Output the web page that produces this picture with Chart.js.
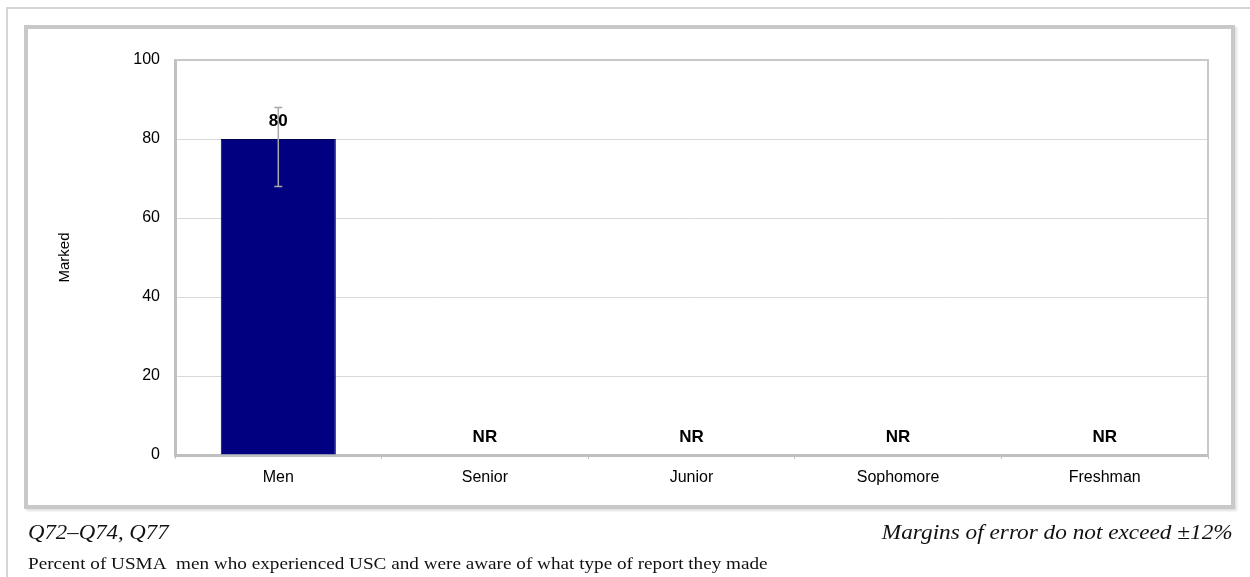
<!DOCTYPE html>
<html>
<head>
<meta charset="utf-8">
<script src="https://cdn.jsdelivr.net/npm/chart.js@4/dist/chart.umd.min.js"></script>
<style>
  html, body { margin: 0; padding: 0; background: #fff; }
  #wrap { position: relative; width: 1250px; height: 577px; overflow: hidden; }
  #outer { position: absolute; left: 6px; top: 7px; width: 1300px; height: 600px;
           border-top: 2px solid #d6d6d6; border-left: 2px solid #d6d6d6; }
  #box { position: absolute; left: 24px; top: 25px; width: 1203px; height: 476px;
         border: 4px solid #c8c8c8; box-shadow: 2px 2px 2px rgba(0,0,0,0.12); }
  #c { position: absolute; left: 0; top: 0; }
  .foot { position: absolute; font-family: "Liberation Serif", "Times New Roman", serif;
          color: #111; white-space: nowrap; }
  #f1 { left: 28px; top: 521px; font-size: 20px; font-style: italic; transform-origin: left top; transform: scaleX(1.14); }
  #f2 { right: 17px; top: 521px; font-size: 20px; font-style: italic; transform-origin: right top; transform: scaleX(1.163); }
  #f3 { left: 28px; top: 554px; font-size: 17px; transform-origin: left top; transform: scaleX(1.128); }
</style>
</head>
<body>
<div id="wrap">
  <div id="outer"></div>
  <div id="box"></div>
  <canvas id="c" width="1250" height="577"></canvas>
  <div class="foot" id="f1">Q72–Q74, Q77</div>
  <div class="foot" id="f2">Margins of error do not exceed ±12%</div>
  <div class="foot" id="f3">Percent of USMA&nbsp; men who experienced USC and were aware of what type of report they made</div>
</div>
<script>
const categories = ['Men', 'Senior', 'Junior', 'Sophomore', 'Freshman'];
const values = [80, null, null, null, null];
const valueLabels = ['80', 'NR', 'NR', 'NR', 'NR'];
const errLow = [68, null, null, null, null];
const errHigh = [88, null, null, null, null];
const yTicks = [0, 20, 40, 60, 80, 100];
const yTitle = 'Marked';

const extras = {
  id: 'extras',
  afterDatasetsDraw(chart) {
    const ctx = chart.ctx;
    const y = chart.scales.y;
    const meta = chart.getDatasetMeta(0);
    const a = chart.chartArea;
    ctx.save();
    // top & right frame of plot area
    ctx.strokeStyle = '#c8c8c8';
    ctx.lineWidth = 2;
    ctx.beginPath();
    ctx.moveTo(a.left, a.top);
    ctx.lineTo(a.right, a.top);
    ctx.lineTo(a.right, a.bottom);
    ctx.stroke();
    // error bars
    ctx.strokeStyle = '#a8a8a8';
    ctx.lineWidth = 1.5;
    meta.data.forEach((bar, i) => {
      if (errLow[i] == null) return;
      const x = bar.x;
      const y1 = y.getPixelForValue(errLow[i]);
      const y2 = y.getPixelForValue(errHigh[i]);
      ctx.beginPath();
      ctx.moveTo(x, y1); ctx.lineTo(x, y2);
      ctx.moveTo(x - 4, y1); ctx.lineTo(x + 4, y1);
      ctx.moveTo(x - 4, y2); ctx.lineTo(x + 4, y2);
      ctx.stroke();
    });
    // value labels
    ctx.fillStyle = '#000';
    ctx.font = 'bold 17px "Liberation Sans", Arial, sans-serif';
    ctx.textAlign = 'center';
    ctx.textBaseline = 'middle';
    meta.data.forEach((bar, i) => {
      const v = values[i] == null ? 0 : values[i];
      ctx.fillText(valueLabels[i], bar.x, y.getPixelForValue(v) - 18);
    });
    ctx.restore();
  }
};

new Chart(document.getElementById('c'), {
  type: 'bar',
  data: {
    labels: categories,
    datasets: [{
      data: values,
      backgroundColor: (c) => {
        const chart = c.chart;
        const a = chart.chartArea;
        if (!a) return '#000080';
        const el = chart.getDatasetMeta(0).data[c.dataIndex];
        if (!el || !el.width) return '#000080';
        const g = chart.ctx.createLinearGradient(el.x - el.width / 2, 0, el.x + el.width / 2, 0);
        g.addColorStop(0, '#00005c');
        g.addColorStop(0.04, '#000080');
        g.addColorStop(0.96, '#000080');
        g.addColorStop(1, '#00005c');
        return g;
      },
      borderColor: '#000050',
      borderWidth: 1,
      categoryPercentage: 1,
      barPercentage: 0.557
    }]
  },
  options: {
    responsive: false,
    animation: false,
    layout: { padding: { left: 52, top: 60, right: 42, bottom: 0 } },
    plugins: { legend: { display: false }, tooltip: { enabled: false } },
    scales: {
      x: {
        afterFit: (s) => { s.height = 122; },
        grid: { offset: true, drawOnChartArea: false, tickLength: 4, color: '#c0c0c0' },
        border: { color: '#c0c0c0', width: 3 },
        ticks: { padding: 9, color: '#000', font: { family: '"Liberation Sans", Arial, sans-serif', size: 16 } }
      },
      y: {
        min: 0, max: 100,
        afterFit: (s) => { s.width = 123; },
        afterBuildTicks: (s) => { s.ticks = yTicks.map(v => ({ value: v })); },
        grid: { color: '#d9d9d9', lineWidth: 1, drawTicks: false },
        border: { color: '#c0c0c0', width: 3 },
        ticks: { padding: 15, color: '#000', font: { family: '"Liberation Sans", Arial, sans-serif', size: 16 } },
        title: { display: true, text: yTitle, color: '#000', padding: { top: 4, bottom: 0 },
                 font: { family: '"Liberation Sans", Arial, sans-serif', size: 15 } }
      }
    }
  },
  plugins: [extras]
});
</script>
</body>
</html>
